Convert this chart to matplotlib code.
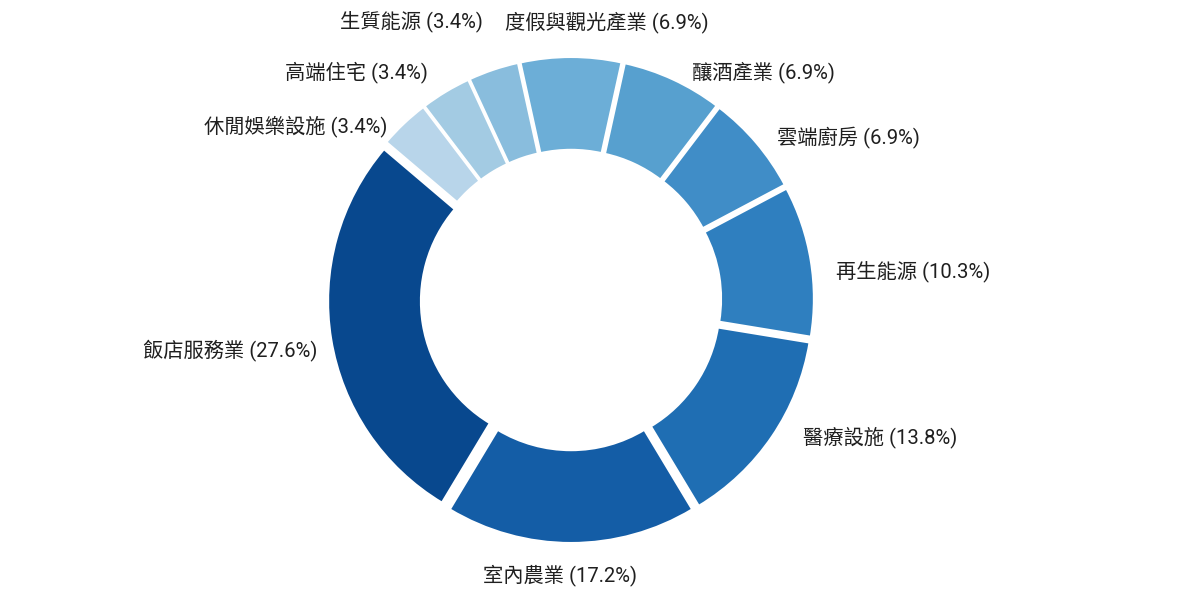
import matplotlib.pyplot as plt
import numpy as np

labels = ['飯店服務業', '室內農業', '醫療設施', '再生能源', '雲端廚房',
          '釀酒產業', '度假與觀光產業', '生質能源', '高端住宅', '休閒娛樂設施']
counts = [8, 5, 4, 3, 2, 2, 2, 1, 1, 1]
colors = ['#08488e', '#145da6', '#1f6eb3', '#2f7fbf', '#408dc7',
          '#57a0cf', '#6caed7', '#89bddd', '#a3cbe3', '#b8d5ea']

# small label nudges in pixels (right, down) so the labels sit like the original
nudges = [(6, 8), (-11, 12), (14, -10), (5, 15), (6, 8),
          (11, 11), (36, -15), (-4, -29), (-8, -3), (-3, 17)]

R_PX = 235          # outer radius in pixels
CX, CY = 571, 300   # pie centre in pixels (from left, from top)

plt.rcParams['font.family'] = ['Roboto', 'Noto Sans CJK TC', 'DejaVu Sans']

fig = plt.figure(figsize=(12, 6), dpi=100)
ax = fig.add_axes([0, 0, 1, 1])

total = sum(counts)
# the "度假與觀光產業" slice is centred at 12 o'clock
start = 90 - 360 * (sum(counts[:6]) + counts[6] / 2) / total

wedges, _ = ax.pie(counts, colors=colors, startangle=start, counterclock=True,
                   explode=[8 / R_PX] * len(counts),
                   wedgeprops=dict(width=0.395, edgecolor='white', linewidth=1.5))

for w, name, c, (dx, dy) in zip(wedges, labels, counts, nudges):
    mid = np.deg2rad((w.theta1 + w.theta2) / 2)
    x, y = 1.119 * np.cos(mid), 1.119 * np.sin(mid)
    if np.cos(mid) > 0.1:
        ha = 'left'
    elif np.cos(mid) < -0.1:
        ha = 'right'
    else:
        ha = 'center'
    txt = f'{name} ({c / total * 100:.1f}%)'
    ax.annotate(txt, xy=(x, y), xytext=(dx, -dy), textcoords='offset pixels',
                ha=ha, va='center', fontsize=14.6, color='#1f1f1f')

ax.set_xlim(-CX / R_PX, (1200 - CX) / R_PX)
ax.set_ylim(-(600 - CY) / R_PX, CY / R_PX)
ax.set_aspect('equal')
ax.axis('off')

fig.savefig('out.png', dpi=100, facecolor='white')
